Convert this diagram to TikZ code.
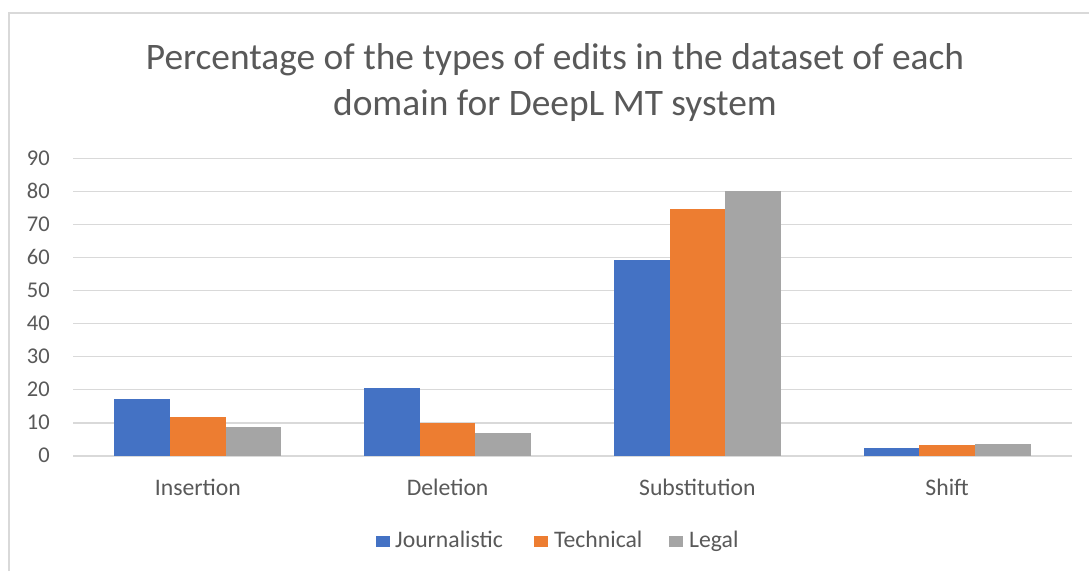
\documentclass[tikz,border=0pt]{standalone}
\usepackage{fontspec}
\setmainfont{Carlito}
\definecolor{jblue}{HTML}{4472C4}
\definecolor{torange}{HTML}{ED7D31}
\definecolor{lgray}{HTML}{A5A5A5}
\definecolor{gridc}{HTML}{D9D9D9}
\definecolor{txt}{HTML}{595959}
\tikzset{
  gridline/.style={draw=gridc, line width=1.2pt},
  framel/.style={draw=gridc, line width=1.3pt},
  ticklab/.style={anchor=base east, inner sep=0pt, text=txt, font=\fontsize{22.5}{27}\selectfont},
  catlab/.style={anchor=base, inner sep=0pt, text=txt, font=\fontsize{23.7}{28}\selectfont},
  leglab/.style={anchor=base west, inner sep=0pt, text=txt, font=\fontsize{23.7}{28}\selectfont},
  titlelab/.style={anchor=base, inner sep=0pt, text=txt, font=\fontsize{37.4}{45}\selectfont},
}
\begin{document}
\begin{tikzpicture}[x=1pt,y=-1pt]
\useasboundingbox (0,0) rectangle (1089,571);
\fill[white] (0,0) rectangle (1089,571);
% frame
\draw[framel] (9,571) -- (9,13) -- (1089,13);
% title
\node[titlelab] (t1) at (555,69) {Percentage of the types of edits in the dataset of each};
\node[titlelab] (t2) at (555,115.5) {domain for DeepL MT system};
% gridlines and tick labels
\foreach \k in {0,...,9}{
  \pgfmathsetmacro{\yy}{456-33.08*\k}
  \draw[gridline] (73,\yy) -- (1072,\yy);
  \pgfmathtruncatemacro{\lab}{10*\k}
  \node[ticklab] (y\k) at (50,\yy+6.9) {\lab};
}
% bars
\def\bw{55.6}
\foreach \i/\a/\b/\c/\name in {0/17.3/11.7/8.9/Insertion,1/20.6/10.0/7.0/Deletion,2/59.2/74.6/80.0/Substitution,3/2.3/3.2/3.6/Shift}{
  \pgfmathsetmacro{\cx}{73+249.75*(\i+0.5)}
  \pgfmathsetmacro{\xa}{\cx-1.5*\bw}
  \pgfmathsetmacro{\xb}{\cx-0.5*\bw}
  \pgfmathsetmacro{\xc}{\cx+0.5*\bw}
  \pgfmathsetmacro{\xd}{\cx+1.5*\bw}
  \fill[jblue] (\xa,456) rectangle (\xb,456-3.3076*\a);
  \fill[torange] (\xb,456) rectangle (\xc,456-3.3076*\b);
  \fill[lgray] (\xc,456) rectangle (\xd,456-3.3076*\c);
  \node[catlab] (c\i) at (\cx,495.5) {\name};
}
% legend
\fill[jblue] (376,535.5) rectangle (390,547);
\node[leglab] (l1) at (395,547.5) {Journalistic};
\fill[torange] (534,535.5) rectangle (548,547);
\node[leglab] (l2) at (554,547.5) {Technical};
\fill[lgray] (669,535.5) rectangle (683,547);
\node[leglab] (l3) at (689,547.5) {Legal};
\end{tikzpicture}
\end{document}
